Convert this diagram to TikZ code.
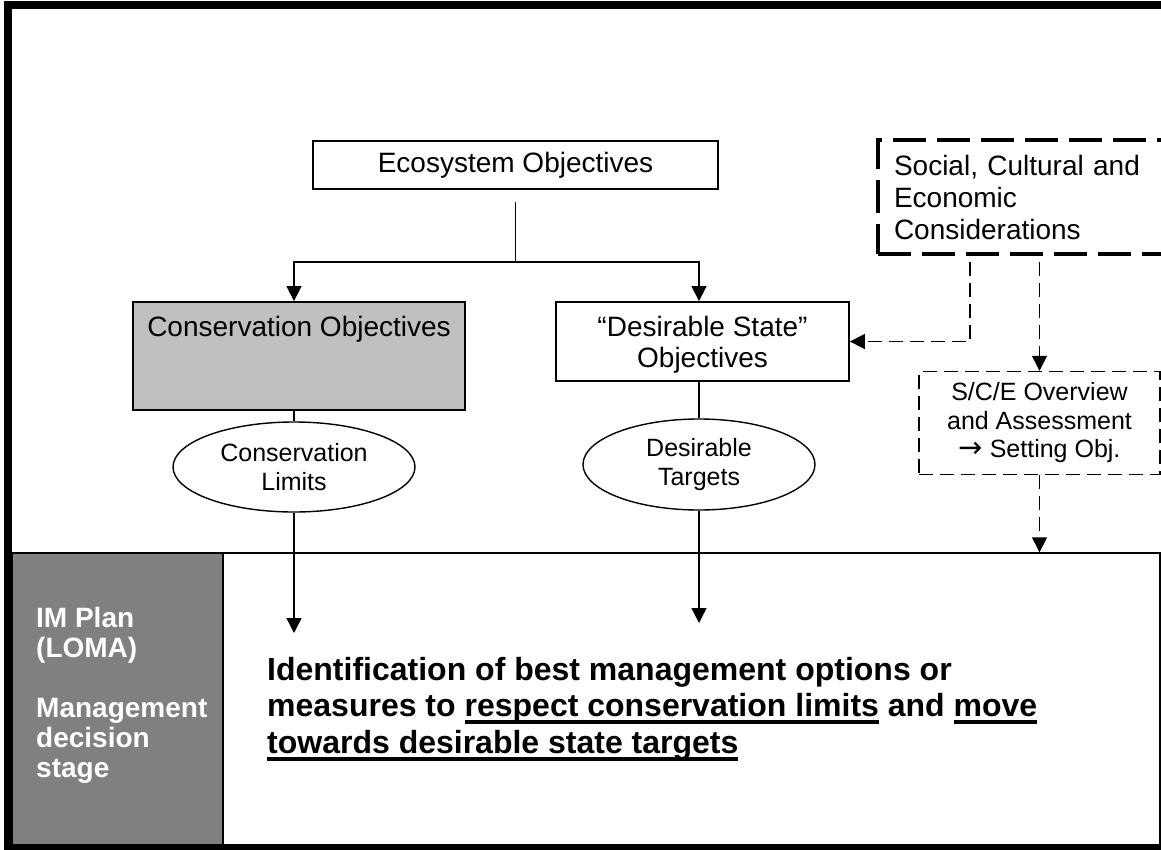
\documentclass[tikz,border=0pt]{standalone}
\usepackage{fontspec}
\setmainfont{Liberation Sans}
\newfontfamily\symfont{DejaVu Sans}
\usetikzlibrary{arrows.meta,shapes.geometric}
\definecolor{consgray}{HTML}{C0C0C0}
\definecolor{panelgray}{HTML}{808080}
% underline drawn as a solid bar under a whole phrase
\newcommand\ulbar[1]{\setbox0\hbox{#1}\rlap{\rule[-7.5pt]{\wd0}{4pt}}\box0\relax}

\begin{document}
\begin{tikzpicture}[x=1pt,y=-1pt,
  box/.style={draw, line width=1.8pt, inner sep=0pt, align=center},
  oval/.style={ellipse, draw, line width=1.4pt, inner sep=0pt, align=center,
    font=\fontsize{25}{29}\selectfont},
  conn/.style={line width=1.4pt},
  arr/.style={conn, -{Triangle[width=15pt,length=15pt]}},
  darr/.style={arr, dash pattern=on 14pt off 7pt},
  bigtext/.style={font=\fontsize{28}{32}\selectfont},
]
\useasboundingbox (0,0) rectangle (1161,850);
\clip (0,0) rectangle (1161,850);

% management decision stage (lower band)
\node[draw, line width=1.4pt, fill=panelgray, minimum width=211pt,
  minimum height=292pt, inner sep=0pt] (panel) at (117.5,699) {};
\node[draw, line width=1.4pt, minimum width=937pt, minimum height=292pt,
  inner sep=0pt] (plan) at (691.5,699) {};
\node[anchor=north west, inner sep=0pt, align=left, text=white,
  font=\bfseries\fontsize{28}{30}\selectfont] (stage) at (36,607)
  {IM Plan\\(LOMA)\\[30pt]Management\\decision\\stage};
\node[anchor=north west, inner sep=0pt, align=left,
  font=\bfseries\fontsize{32}{36.5}\selectfont] (task) at (267,657)
  {Identification of best management options or\\
   measures to \ulbar{respect conservation limits} and \ulbar{move}\\
   \ulbar{towards desirable state targets}};

% outer frame
\draw[line width=8pt] (8,5) rectangle (1175,849);

% objectives
\node[box, bigtext, minimum width=405pt, minimum height=48pt] (eco)
  at (515.5,165) {Ecosystem Objectives};
\node[box, bigtext, fill=consgray, minimum width=332pt,
  text height=34pt, text depth=74pt] (cons) at (299,356)
  {Conservation Objectives};
\node[box, font=\fontsize{28}{31}\selectfont, minimum width=293pt,
  minimum height=79pt, text depth=0pt] (des) at (702.5,341.5)
  {“Desirable State”\\Objectives};
\node[oval, minimum width=242pt, minimum height=90pt] (lim) at (294,467)
  {Conservation\\Limits};
\node[oval, minimum width=232pt, minimum height=91pt] (targ) at (699,464.5)
  {Desirable\\Targets};

% social, cultural and economic side
\node[draw, line width=4pt, dash pattern=on 33pt off 11pt, bigtext,
  minimum height=114pt, text width=265pt, inner xsep=16pt, inner ysep=0pt,
  align=left] (soc) at (1026.5,197)
  {Social, Cultural and\\Economic\\Considerations};
\node[draw, line width=1.4pt, dash pattern=on 14pt off 7pt,
  minimum width=241pt, minimum height=103pt, inner sep=0pt, align=center,
  font=\fontsize{25}{28.5}\selectfont] (sce) at (1039.5,423)
  {S/C/E Overview\\and Assessment\\{\symfont\fontsize{29}{28.5}\selectfont →} Setting Obj.};

% connectors
\coordinate (split) at (515.5,262);
\coordinate (limTip) at (294,633);
\coordinate (targTip) at (699,623);
\draw[conn] ([yshift=-12pt]eco.south) -- (split);
\draw[arr] (split) -| (cons.north -| lim.north);
\draw[arr] (split) -| (des.north -| targ.north);
\draw[conn] (cons.south -| lim.north) -- (lim.north);
\draw[conn] (des.south -| targ.north) -- (targ.north);
\draw[arr] (lim.south) -- (limTip);
\draw[arr] (targ.south) -- (targTip);

\draw[darr, shorten <=6pt] ([xshift=-56.5pt]soc.south) |- (des.east);
\draw[darr, shorten <=6pt] (soc.south -| sce.north) -- (sce.north);
\draw[darr] (sce.south) -- (sce.south |- plan.north);
\end{tikzpicture}
\end{document}
